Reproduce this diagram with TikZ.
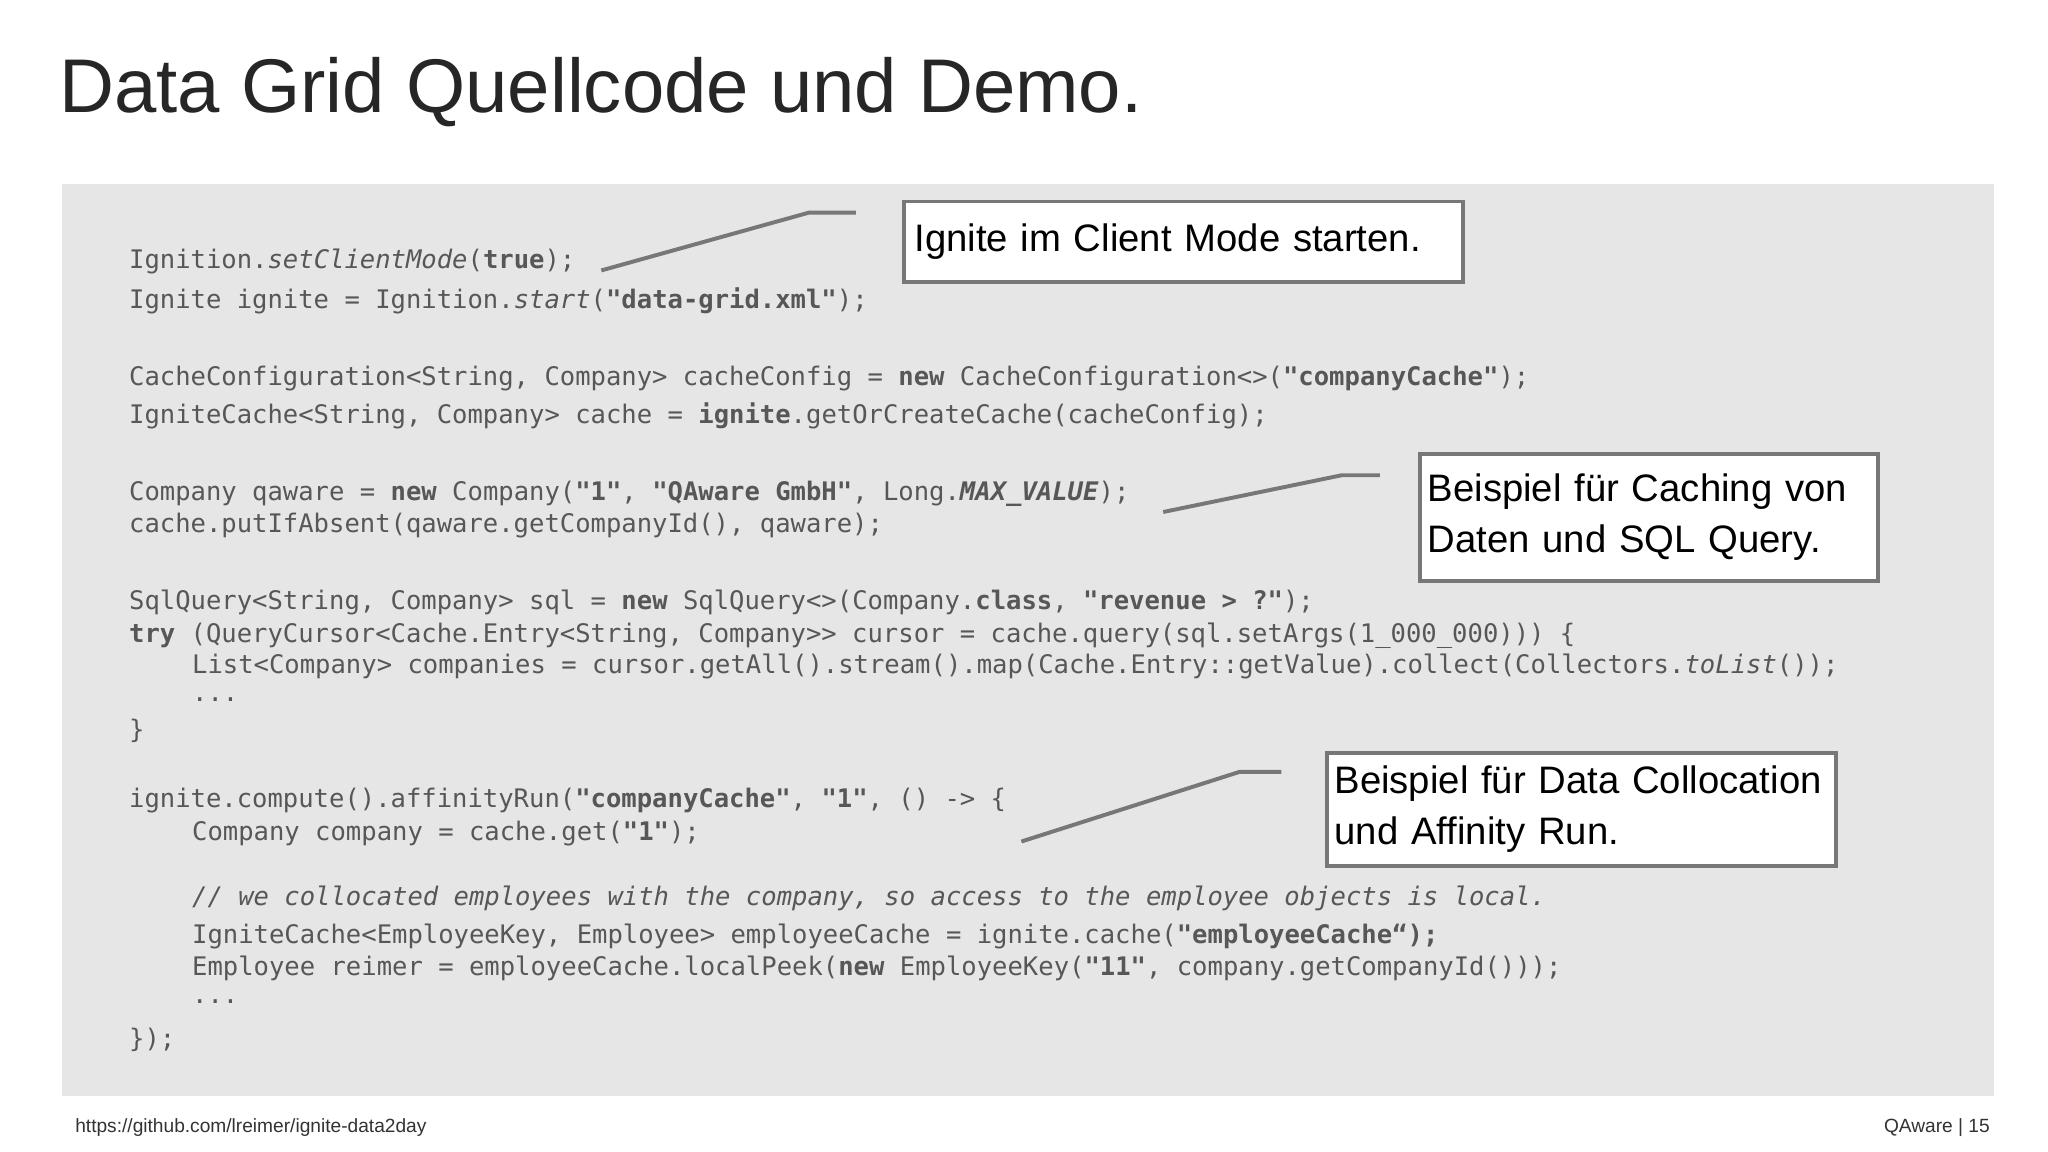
\documentclass[tikz,border=0pt]{standalone}
\usepackage{fontspec}
\setmainfont{Liberation Sans}
\setmonofont{DejaVu Sans Mono}
\definecolor{bg}{HTML}{E6E6E6}
\definecolor{codec}{HTML}{575757}
\definecolor{linec}{HTML}{777777}
\begin{document}
\begin{tikzpicture}[x=0.02cm,y=-0.02cm,
  code/.style={anchor=west,inner sep=0,font=\ttfamily\fontsize{11.08}{13}\selectfont,text=codec},
  callout/.style={draw=linec,line width=0.06cm,fill=white,anchor=north west,inner sep=0,text=black,font=\fontsize{16.6}{22}\selectfont,align=left},
  leader/.style={draw=linec,line width=0.06cm}]
\useasboundingbox (0,0) rectangle (1560,877.5);
\fill[white] (0,0) rectangle (1560,877.5);
\node[anchor=west,inner sep=0,font=\fontsize{33}{38}\selectfont,text=black!85] (title) at (45,70) {Data Grid Quellcode und Demo.};
\fill[bg] (47,140) rectangle (1519,835);
\node[code] (l1) at (98,199) {Ignition.\textit{setClientMode}(\textbf{true});};
\node[code] (l2) at (98,229) {Ignite ignite = Ignition.\textit{start}(\textbf{"data-grid.xml"});};
\node[code] (l3) at (98,288) {CacheConfiguration<String, Company> cacheConfig = \textbf{new} CacheConfiguration<>(\textbf{"companyCache"});};
\node[code] (l4) at (98,317) {IgniteCache<String, Company> cache = \textbf{ignite}.getOrCreateCache(cacheConfig);};
\node[code] (l5) at (98,376) {Company qaware = \textbf{new} Company(\textbf{"1"}, \textbf{"QAware GmbH"}, Long.\textbf{\textit{MAX\_VALUE}});};
\node[code] (l6) at (98,400) {cache.putIfAbsent(qaware.getCompanyId(), qaware);};
\node[code] (l7) at (98,459) {SqlQuery<String, Company> sql = \textbf{new} SqlQuery<>(Company.\textbf{class}, \textbf{"revenue > ?"});};
\node[code] (l8) at (98,484) {\textbf{try} (QueryCursor<Cache.Entry<String, Company>> cursor = cache.query(sql.setArgs(1\_000\_000))) \{};
\node[code] (l9) at (146,508) {List<Company> companies = cursor.getAll().stream().map(Cache.Entry::getValue).collect(Collectors.\textit{toList}());};
\node[code] (l10) at (146,533) {...};
\node[code] (l11) at (98,557) {\}};
\node[code] (l12) at (98,610) {ignite.compute().affinityRun(\textbf{"companyCache"}, \textbf{"1"}, () -> \{};
\node[code] (l13) at (146,635) {Company company = cache.get(\textbf{"1"});};
\node[code] (l14) at (146,684) {\textit{// we collocated employees with the company, so access to the employee objects is local.}};
\node[code] (l15) at (146,713) {IgniteCache<EmployeeKey, Employee> employeeCache = ignite.cache(\textbf{"employeeCache“);}};
\node[code] (l16) at (146,738) {Employee reimer = employeeCache.localPeek(\textbf{new} EmployeeKey(\textbf{"11"}, company.getCompanyId()));};
\node[code] (l17) at (146,763) {...};
\node[code] (l18) at (98,792) {\});};
% callouts
\node[callout,minimum width=426*0.02cm,minimum height=61*0.02cm,text width=410*0.02cm] (c1) at (687,152) {Ignite im Client Mode starten.};
\node[callout,minimum width=349*0.02cm,minimum height=97*0.02cm,text width=337*0.02cm] (c2) at (1080,344) {Beispiel für Caching von\\Daten und SQL Query.};
\node[callout,minimum width=388*0.02cm,minimum height=86*0.02cm,text width=376*0.02cm] (c3) at (1009,572) {Beispiel für Data Collocation\\und Affinity Run.};
\coordinate (a1) at (458,206); \coordinate (b1) at (616,162); \coordinate (e1) at (652,162);
\coordinate (a2) at (886,390); \coordinate (b2) at (1022,362); \coordinate (e2) at (1051,362);
\coordinate (a3) at (778,641); \coordinate (b3) at (944,588); \coordinate (e3) at (976,588);
\draw[leader] (a1) -- (b1) -- (e1);
\draw[leader] (a2) -- (b2) -- (e2);
\draw[leader] (a3) -- (b3) -- (e3);
\node[anchor=west,inner sep=0,font=\fontsize{8.3}{10}\selectfont,text=black!80] (url) at (57,859) {https://github.com/lreimer/ignite-data2day};
\node[anchor=east,inner sep=0,font=\fontsize{8.3}{10}\selectfont,text=black!80] (pg) at (1516,859) {QAware | 15};
\end{tikzpicture}
\end{document}
